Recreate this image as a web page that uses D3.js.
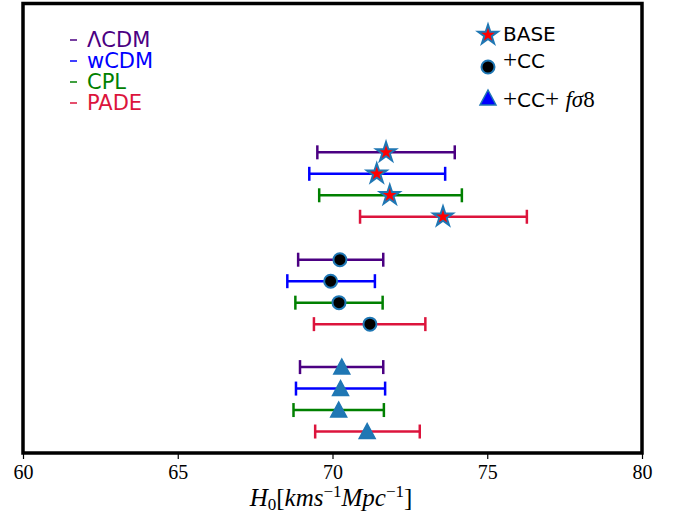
<!DOCTYPE html>
<html><head><meta charset="utf-8">
<script src="https://cdn.jsdelivr.net/npm/d3@7"></script>
<style>body{margin:0;background:#fff}</style></head><body>
<svg id="c" width="676" height="516"></svg>
<script>
const models = ["ΛCDM", "wCDM", "CPL", "PADE"];
const modelColors = ["#4b0082", "#0000ff", "#008000", "#dc143c"];
const datasets = ["BASE", "+CC", "+CC+fσ8"];
// central values and error bar ends, per dataset, per model
const centralBASE = [71.73, 71.43, 71.85, 73.57];
const lowBASE     = [69.51, 69.25, 69.57, 70.89];
const highBASE    = [73.95, 73.64, 74.18, 76.28];
const centralCC   = [70.24, 69.94, 70.21, 71.21];
const lowCC       = [68.89, 68.54, 68.80, 69.40];
const highCC      = [71.64, 71.37, 71.62, 73.00];
const centralCCf  = [70.30, 70.26, 70.20, 71.12];
const lowCCf      = [68.95, 68.82, 68.74, 69.44];
const highCCf     = [71.64, 71.70, 71.66, 72.82];
const xTicks = [60, 65, 70, 75, 80];

const centrals = [centralBASE, centralCC, centralCCf];
const lows = [lowBASE, lowCC, lowCCf];
const highs = [highBASE, highCC, highCCf];

const svg = d3.select("#c");
const L = 23, R = 642, T = 3.5, B = 453;
const x = d3.scaleLinear().domain([60, 80]).range([L, R]);
const y = d3.scaleLinear().domain([0, 20.93]).range([B, T]);

const rows = [];
datasets.forEach((ds, d) => models.forEach((m, i) => {
  rows.push({ds: d, m: i, pos: 14 - 5 * d - i, c: centrals[d][i], lo: lows[d][i], hi: highs[d][i]});
}));

// x axis
const ax = svg.append("g").attr("transform", `translate(0,${B})`)
  .call(d3.axisBottom(x).tickValues(xTicks).tickSize(6).tickPadding(6).tickFormat(d3.format("d")));
ax.select(".domain").remove();
ax.selectAll(".tick line").attr("stroke", "#000").attr("stroke-width", 1.2);
ax.selectAll(".tick text").attr("font-family", "Liberation Serif, serif").attr("font-size", 20).attr("fill", "#000");

// error bars
const eb = svg.append("g");
rows.forEach(r => {
  const yy = y(r.pos), col = modelColors[r.m];
  eb.append("line").attr("x1", x(r.lo)).attr("x2", x(r.hi)).attr("y1", yy).attr("y2", yy)
    .attr("stroke", col).attr("stroke-width", 2.5);
  [r.lo, r.hi].forEach(v => eb.append("line").attr("x1", x(v)).attr("x2", x(v))
    .attr("y1", yy - 7).attr("y2", yy + 7).attr("stroke", col).attr("stroke-width", 2.5));
});

const starPath = d3.symbol(d3.symbolStar, 120)();
const triPath = "M0,-8L8,7L-8,7Z";
function marker(g, d, cx, cy, legend) {
  if (d === 0) {
    g.append("path").attr("d", starPath).attr("transform", `translate(${cx},${cy})`)
      .attr("fill", "#ff0000").attr("stroke", "#1f77b4").attr("stroke-width", 2).attr("stroke-linejoin", "miter");
  } else if (d === 1) {
    g.append("circle").attr("cx", cx).attr("cy", cy).attr("r", 6.5)
      .attr("fill", "#000").attr("stroke", "#1f77b4").attr("stroke-width", 2);
  } else {
    g.append("path").attr("d", triPath).attr("transform", `translate(${cx},${cy})`)
      .attr("fill", legend ? "#0000ff" : "#1f77b4").attr("stroke", "#1f77b4").attr("stroke-width", 1.5);
  }
}
const mk = svg.append("g");
rows.forEach(r => marker(mk, r.ds, x(r.c), y(r.pos), false));

// frame
svg.append("rect").attr("x", L).attr("y", T).attr("width", R - L).attr("height", B - T)
  .attr("fill", "none").attr("stroke", "#000").attr("stroke-width", 3.5);

// left legend
const lg = svg.append("g").attr("font-family", "DejaVu Sans, sans-serif").attr("font-size", 21);
models.forEach((m, i) => {
  const cy = 39 + 21 * i;
  lg.append("line").attr("x1", 70).attr("x2", 77).attr("y1", cy + 1).attr("y2", cy + 1)
    .attr("stroke", modelColors[i]).attr("stroke-width", 1.5);
  lg.append("text").attr("x", 87).attr("y", cy + 8).attr("fill", modelColors[i]).text(m);
});

// right legend
const rg = svg.append("g").attr("font-size", 20).attr("fill", "#000");
marker(rg, 0, 488, 35, true);
marker(rg, 1, 488, 67, true);
marker(rg, 2, 488, 98, true);
rg.append("text").attr("x", 503).attr("y", 41).attr("font-family", "DejaVu Sans, sans-serif").text(datasets[0]);
const t2 = rg.append("text").attr("x", 503).attr("y", 68);
t2.append("tspan").attr("font-family", "Liberation Serif, serif").attr("font-size", 25).text("+");
t2.append("tspan").attr("font-family", "DejaVu Sans, sans-serif").text("CC");
const t3 = rg.append("text").attr("x", 503).attr("y", 107);
t3.append("tspan").attr("font-family", "Liberation Serif, serif").attr("font-size", 25).text("+");
t3.append("tspan").attr("font-family", "DejaVu Sans, sans-serif").text("CC");
t3.append("tspan").attr("font-family", "Liberation Serif, serif").attr("font-size", 25).text("+ ");
t3.append("tspan").attr("font-family", "Liberation Serif, serif").attr("font-style", "italic").attr("font-size", 23).text("fσ");
t3.append("tspan").attr("font-family", "Liberation Serif, serif").attr("font-size", 23).text("8");

// x label
const xl = svg.append("text").attr("x", 331).attr("y", 506).attr("text-anchor", "middle")
  .attr("font-family", "Liberation Serif, serif").attr("font-size", 25).attr("fill", "#000");
xl.append("tspan").attr("font-style", "italic").text("H");
xl.append("tspan").attr("font-size", 17).attr("dy", 4).text("0");
xl.append("tspan").attr("dy", -4).text("[");
xl.append("tspan").attr("font-style", "italic").text("kms");
xl.append("tspan").attr("font-size", 17).attr("dy", -9).text("−1");
xl.append("tspan").attr("font-style", "italic").attr("dy", 9).text("Mpc");
xl.append("tspan").attr("font-size", 17).attr("dy", -9).text("−1");
xl.append("tspan").attr("dy", 9).text("]");
</script></body></html>
